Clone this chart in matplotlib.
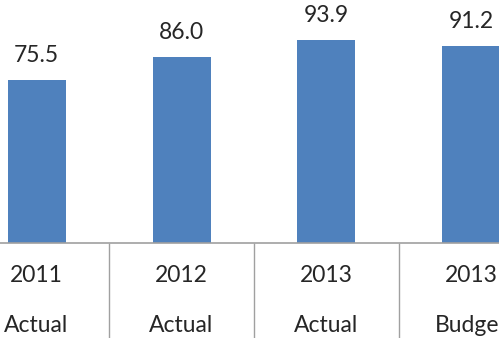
import matplotlib.pyplot as plt

# values
years = ["2011", "2012", "2013", "2013"]
kinds = ["Actual", "Actual", "Actual", "Budget"]
values = [75.5, 86.0, 93.9, 91.2]

bar_color = "#4F81BD"
text_color = "#262626"
axis_color = "#A0A0A0"

plt.rcParams["font.family"] = ["Lato", "DejaVu Sans"]

fig = plt.figure(figsize=(4.99, 3.38), dpi=100)
# axes fill the width, baseline sits at about 243 px from the top
ax = fig.add_axes([0, 95 / 338, 1, 243 / 338])

x = list(range(len(values)))
bars = ax.bar(x, values, width=0.4, color=bar_color)

# value labels above the bars
for xi, v in zip(x, values):
    ax.annotate(f"{v:.1f}", (xi, v), xytext=(0, 10), textcoords="offset points",
                ha="center", va="bottom", fontsize=16.5, color=text_color)

ax.set_xlim(-0.252, 3.19)
ax.set_ylim(0, 112.5)

for s in ["top", "right", "left"]:
    ax.spines[s].set_visible(False)
ax.spines["bottom"].set_color(axis_color)
ax.spines["bottom"].set_linewidth(1.2)

ax.set_yticks([])
ax.set_xticks([])
# category separators hanging below the axis
ax.set_xticks([0.5, 1.5, 2.5], minor=True)
ax.tick_params(axis="x", which="minor", length=75, width=1.0, color=axis_color,
               direction="out", labelbottom=False)

trans = ax.get_xaxis_transform()
for xi, yr, kd in zip(x, years, kinds):
    ax.text(xi, -33 / 243, yr, transform=trans, ha="center", va="center",
            fontsize=16.5, color=text_color)
    ax.text(xi, -82 / 243, kd, transform=trans, ha="center", va="center",
            fontsize=16.5, color=text_color)

fig.savefig("out.png", dpi=100)
